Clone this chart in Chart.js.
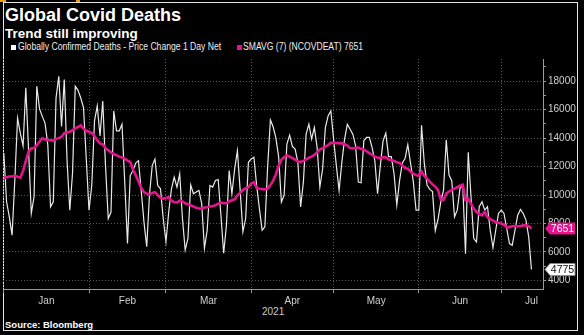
<!DOCTYPE html>
<html>
<head>
<meta charset="utf-8">
<script src="https://cdn.jsdelivr.net/npm/chart.js@4.4.1/dist/chart.umd.min.js"></script>
<style>
  html, body { margin: 0; padding: 0; background: #000; }
  body { width: 584px; height: 335px; position: relative; overflow: hidden; font-family: 'Liberation Sans', Arial, sans-serif; }
  #frame { position: absolute; left: 3px; top: 2px; width: 573px; height: 327px; border: 1px solid #e6e6e6; }
  .txt { position: absolute; color: #fff; line-height: 1; white-space: nowrap; }
  #title { left: 5px; top: 6px; font-size: 18px; font-weight: bold; }
  #subtitle { left: 5px; top: 27px; font-size: 13.5px; font-weight: bold; }
  .leg { top: 42px; font-size: 10px; color: #eee; transform: scaleX(0.86); transform-origin: left center; }
  .sq { position: absolute; top: 45px; width: 5px; height: 5px; }
  #year { left: 262px; top: 307px; font-size: 10px; color: #ccc; }
  #source { left: 5px; top: 320px; font-size: 9.5px; font-weight: bold; }
  .orange { position: absolute; top: 0; height: 2px; background: #f39c12; }
  canvas { position: absolute; left: 0; top: 0; }
</style>
</head>
<body>
<div class="orange" style="left:0;width:6px"></div>
<div class="orange" style="left:76px;width:4px"></div>
<div id="frame"></div>
<div class="txt" id="title">Global Covid Deaths</div>
<div class="txt" id="subtitle">Trend still improving</div>
<div class="sq" style="left:11px;background:#fff"></div>
<div class="txt leg" style="left:18px">Globally Confirmed Deaths - Price Change 1 Day Net</div>
<div class="sq" style="left:237px;background:#e5148c"></div>
<div class="txt leg" style="left:243px">SMAVG (7) (NCOVDEAT) 7651</div>
<div class="txt" id="year">2021</div>
<div class="txt" id="source">Source: Bloomberg</div>
<canvas id="chart" width="584" height="335"></canvas>
<script>
// Dias desde 1 jan 2021 (índice 0) até 12 jul 2021
const dailyDeaths = [
  12940, 9530, 8470, 7180, 11060, 15410, 14350, 13460, 17530, 13180,
  8710, 9880, 17650, 16050, 15530, 15060, 13530, 9180, 9530, 16820,
  18350, 14820, 18120, 12470, 8940, 11530, 17650, 17360, 16820, 16140,
  12530, 8930, 10670, 15210, 16260, 14160, 16600, 12070, 8350, 8810,
  15910, 14510, 14510, 14980, 10910, 6600, 11370, 11720, 12250, 12420,
  10300, 8100, 6370, 10000, 12070, 12530, 10670, 10440, 8350, 6720,
  8810, 10440, 11260, 10560, 11490, 8350, 6140, 6950, 10720, 10090,
  10210, 10330, 9400, 6260, 7530, 10670, 10560, 11020, 11090, 8580,
  5910, 7880, 11720, 10090, 11840, 13120, 10330, 7420, 8350, 12300,
  12530, 12650, 10670, 9050, 7530, 7770, 12000, 15280, 14800, 14000,
  12700, 9510, 9980, 13580, 14210, 13420, 13230, 12300, 9160, 10910,
  14280, 14980, 13930, 14740, 13350, 10560, 11840, 14740, 15560, 15910,
  13930, 12070, 10330, 12300, 13930, 14980, 14630, 14280, 13470, 10910,
  10860, 13810, 14050, 14050, 13350, 12420, 10090, 12070, 13810, 14350,
  12700, 12700, 11500, 9300, 11000, 12250, 12570, 13540, 12240, 10940,
  8940, 8940, 14900, 12240, 10700, 10400, 10240, 7500, 8300, 9500,
  10350, 13880, 11410, 11010, 8470, 8940, 10470, 10700, 5880, 13000,
  9880, 6940, 6710, 9180, 9530, 8940, 9180, 7530, 6300, 7530,
  8710, 8940, 8710, 7650, 6590, 6470, 7530, 8590, 8990, 8710,
  8240, 7060, 4775
];

// Média móvel de 7 dias
const smavg7 = [
  11200, 11250, 11300, 11300, 11350, 11280, 11220, 11700, 12400, 13050,
  13290, 13290, 13500, 13750, 14000, 13900, 13850, 13850, 13830, 13950,
  14000, 14100, 14350, 14400, 14450, 14550, 14700, 14780, 14910, 14650,
  14520, 14450, 14350, 14150, 13850, 13630, 13560, 13300, 13150, 13000,
  12880, 12800, 12700, 12640, 12560, 12420, 12320, 11800, 11400, 10950,
  10500, 10200, 10100, 10050, 10150, 10200, 10000, 9800, 9750, 9800,
  9850, 9600, 9500, 9480, 9600, 9550, 9420, 9350, 9280, 9200,
  9100, 9060, 9050, 9120, 9150, 9200, 9230, 9280, 9400, 9470,
  9420, 9420, 9550, 9630, 9700, 9980, 10150, 10350, 10490, 10550,
  10800, 10900, 10500, 10440, 10420, 10400, 10450, 10700, 11020, 11450,
  12050, 12480, 12650, 12800, 12700, 12600, 12500, 12350, 12330, 12400,
  12500, 12620, 12700, 12820, 13000, 13200, 13300, 13400, 13500, 13680,
  13680, 13650, 13650, 13630, 13580, 13480, 13300, 13280, 13320, 13330,
  13230, 13200, 13080, 12950, 12830, 12700, 12620, 12620, 12650, 12650,
  12500, 12470, 12400, 12300, 12250, 12070, 11900, 11850, 11650, 11500,
  11400, 11340, 11650, 11350, 11150, 10950, 10750, 10590, 10350, 9700,
  9650, 10100, 10250, 10350, 10450, 10550, 10650, 10720, 9650, 9750,
  9400, 9050, 8800, 8650, 8590, 8820, 8450, 8300, 8200, 8100,
  8050, 8000, 7900, 7750, 7750, 7810, 7820, 7810, 7830, 7870,
  7880, 7820, 7651
];

// Eixo X: início de cada mês e posição do rótulo
const monthNames = ['Jan', 'Feb', 'Mar', 'Apr', 'May', 'Jun', 'Jul'];
const monthStarts = [0, 31, 59, 90, 120, 151, 181];
const monthLabelAt = [15.5, 45, 74.5, 105, 135.5, 166, 192];

// Eixo Y
const yTicks = [4000, 5000, 6000, 7000, 8000, 9000, 10000, 11000, 12000, 13000, 14000, 15000, 16000, 17000, 18000, 19000];

const WHITE = '#e9e9e9';
const MAGENTA = '#e5148c';
const GRID = '#5a5a5a';

Chart.defaults.font.family = "'Liberation Sans', Arial, sans-serif";

// Etiquetas com o último valor no eixo da direita
const lastValueTags = {
  id: 'lastValueTags',
  afterDraw(chart) {
    const { ctx, scales } = chart;
    const yScale = scales.y;
    const x0 = yScale.left + 2;
    const tag = (value, bg, fg, stroke) => {
      const yy = Math.round(yScale.getPixelForValue(value)) + 0.5;
      ctx.save();
      ctx.beginPath();
      ctx.moveTo(x0, yy);
      ctx.lineTo(x0 + 5, yy - 6);
      ctx.lineTo(x0 + 30, yy - 6);
      ctx.lineTo(x0 + 30, yy + 6);
      ctx.lineTo(x0 + 5, yy + 6);
      ctx.closePath();
      ctx.fillStyle = bg;
      ctx.fill();
      if (stroke) {
        ctx.strokeStyle = stroke;
        ctx.lineWidth = 1;
        ctx.stroke();
      }
      ctx.fillStyle = fg;
      ctx.font = "10.5px 'Liberation Sans', Arial, sans-serif";
      ctx.textAlign = 'center';
      ctx.textBaseline = 'middle';
      ctx.fillText(String(value), x0 + 17.5, yy + 0.5);
      ctx.restore();
    };
    tag(smavg7[smavg7.length - 1], MAGENTA, '#fff');
    tag(dailyDeaths[dailyDeaths.length - 1], '#fff', '#111', '#888');
  }
};

const ctx = document.getElementById('chart');

new Chart(ctx, {
  type: 'line',
  data: {
    datasets: [
      {
        label: 'Globally Confirmed Deaths - Price Change 1 Day Net',
        data: dailyDeaths.map((v, i) => ({ x: i, y: v })),
        borderColor: WHITE,
        borderWidth: 1.2,
        pointRadius: 0,
        tension: 0,
        order: 2
      },
      {
        label: 'SMAVG (7) (NCOVDEAT) 7651',
        data: smavg7.map((v, i) => ({ x: i, y: v })),
        borderColor: MAGENTA,
        borderWidth: 2.6,
        pointRadius: 0,
        tension: 0,
        order: 1
      }
    ]
  },
  options: {
    responsive: false,
    animation: false,
    events: [],
    layout: { padding: { top: 59, left: 3, right: 0, bottom: 6 } },
    plugins: {
      legend: { display: false },
      tooltip: { enabled: false }
    },
    scales: {
      x: {
        type: 'linear',
        min: -0.3,
        max: 196.2,
        afterFit: (s) => { s.height = 40; },
        afterBuildTicks: (s) => {
          s.ticks = monthStarts.concat(monthLabelAt)
            .sort((a, b) => a - b)
            .map(v => ({ value: v }));
        },
        ticks: {
          autoSkip: false,
          maxRotation: 0,
          padding: 2,
          color: '#cfcfcf',
          font: { size: 10 },
          callback: (value) => {
            const k = monthLabelAt.indexOf(value);
            return k >= 0 ? monthNames[k] : '';
          }
        },
        grid: {
          color: (c) => monthStarts.includes(c.tick && c.tick.value) ? GRID : 'rgba(0,0,0,0)',
          tickColor: (c) => monthStarts.includes(c.tick && c.tick.value) ? '#9a9a9a' : 'rgba(0,0,0,0)',
          tickLength: 4,
          lineWidth: 1
        },
        border: { display: true, color: '#9a9a9a', dash: [1, 2] }
      },
      y: {
        position: 'right',
        min: 3400,
        max: 19560,
        afterFit: (s) => { s.width = 41; },
        afterBuildTicks: (s) => {
          s.ticks = yTicks.map(v => ({ value: v }));
        },
        ticks: {
          padding: 2,
          color: '#d0d0d0',
          font: { size: 10 },
          callback: (value) => (value % 2000 === 0 ? String(value) : '')
        },
        grid: {
          color: (c) => (c.tick && c.tick.value % 2000 === 0) ? GRID : 'rgba(0,0,0,0)',
          tickColor: '#9a9a9a',
          tickLength: 3,
          lineWidth: 1
        },
        border: { display: true, color: '#9a9a9a', dash: [1, 2] }
      }
    }
  },
  plugins: [lastValueTags]
});
</script>
</body>
</html>
